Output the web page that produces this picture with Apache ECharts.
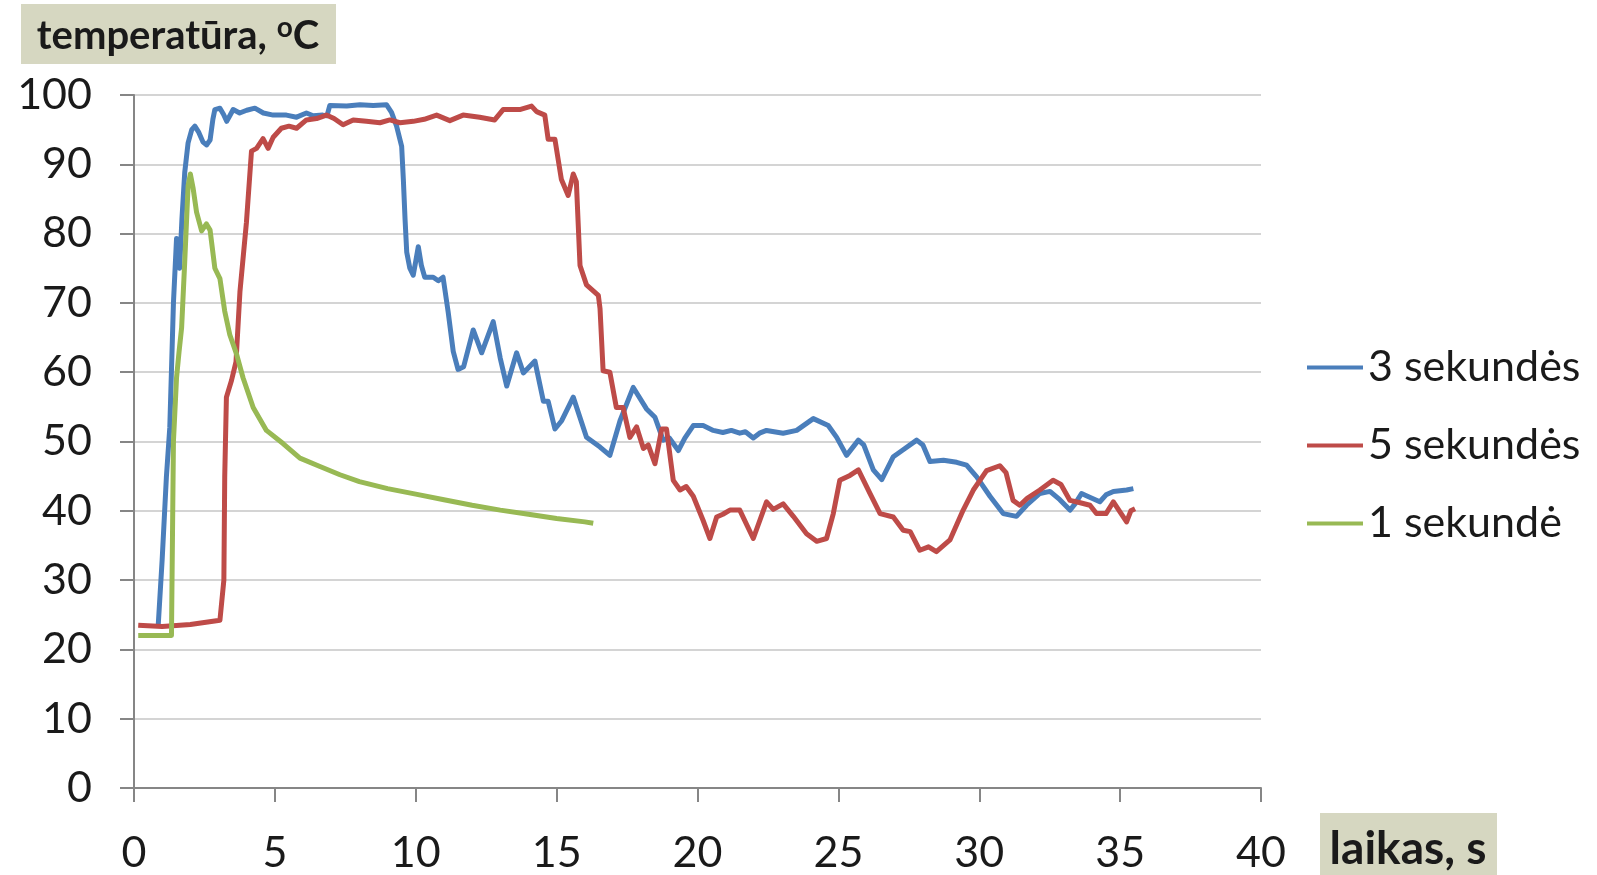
<!DOCTYPE html>
<html>
<head>
<meta charset="utf-8">
<script src="https://cdn.jsdelivr.net/npm/echarts@6/dist/echarts.min.js"></script>
<style>
  html, body { margin: 0; padding: 0; background: #ffffff; }
  #chart { width: 1597px; height: 875px; }
</style>
</head>
<body>
<div id="chart"></div>
<script>
// Temperature vs. time for three exposure durations
const seriesNames = ['3 sekundės', '5 sekundės', '1 sekundė'];
const seriesColors = ['#4a7ebb', '#be4b48', '#98b954'];

const xTicks = [0, 5, 10, 15, 20, 25, 30, 35, 40];
const yTicks = [0, 10, 20, 30, 40, 50, 60, 70, 80, 90, 100];

// 3 sekundės
const time3 = [0.86, 1.00, 1.15, 1.27, 1.40, 1.51, 1.56, 1.62, 1.70, 1.80, 1.92, 2.05, 2.16, 2.30, 2.45, 2.58, 2.70, 2.80, 2.87, 3.05,
  3.18, 3.29, 3.40, 3.52, 3.75, 4.00, 4.29, 4.59, 4.94, 5.41, 5.77, 6.12, 6.36, 6.70, 6.85, 6.95, 7.55, 8.02, 8.49, 8.96,
  9.14, 9.32, 9.50, 9.56, 9.62, 9.68, 9.79, 9.91, 10.00, 10.09, 10.20, 10.32, 10.62, 10.80, 10.97, 11.15, 11.33, 11.50, 11.70, 12.04,
  12.34, 12.75, 13.00, 13.23, 13.58, 13.82, 14.23, 14.53, 14.70, 14.94, 15.18, 15.59, 16.06, 16.54, 16.89, 17.25, 17.72, 18.19, 18.49, 18.78,
  19.00, 19.32, 19.55, 19.85, 20.20, 20.56, 20.90, 21.20, 21.50, 21.70, 21.98, 22.20, 22.45, 23.04, 23.52, 24.11, 24.64, 24.94, 25.29, 25.71,
  25.90, 26.24, 26.54, 26.95, 27.30, 27.78, 28.00, 28.25, 28.73, 29.20, 29.55, 29.91, 30.38, 30.85, 31.32, 31.68, 32.15, 32.51, 32.86, 33.22,
  33.40, 33.63, 33.90, 34.28, 34.50, 34.76, 35.23, 35.47];
const temp3 = [23.5, 33.0, 44.9, 52.0, 70.0, 79.3, 77.0, 75.0, 82.0, 88.8, 93.1, 95.0, 95.5, 94.6, 93.2, 92.8, 93.5, 96.5, 97.9, 98.1,
  97.2, 96.2, 97.0, 97.9, 97.4, 97.8, 98.1, 97.4, 97.1, 97.1, 96.8, 97.4, 97.0, 97.1, 97.0, 98.5, 98.4, 98.6, 98.5, 98.6,
  97.5, 95.5, 92.6, 87.8, 82.1, 77.3, 75.0, 74.0, 76.0, 78.1, 75.4, 73.7, 73.7, 73.2, 73.7, 68.7, 63.0, 60.4, 60.8, 66.1,
  62.8, 67.3, 62.0, 58.0, 62.8, 59.9, 61.6, 55.8, 55.8, 51.8, 53.0, 56.4, 50.6, 49.2, 48.0, 53.0, 57.8, 54.7, 53.5, 50.2,
  50.5, 48.7, 50.5, 52.3, 52.3, 51.6, 51.3, 51.6, 51.2, 51.4, 50.5, 51.2, 51.6, 51.2, 51.6, 53.3, 52.3, 50.6, 48.0, 50.2,
  49.5, 45.9, 44.5, 47.8, 48.8, 50.2, 49.5, 47.1, 47.3, 47.0, 46.6, 44.9, 42.1, 39.6, 39.2, 40.8, 42.5, 42.8, 41.6, 40.1,
  41.0, 42.5, 42.0, 41.3, 42.3, 42.8, 43.0, 43.2];

// 5 sekundės
const time5 = [0.15, 1.00, 2.00, 3.05, 3.19, 3.22, 3.28, 3.46, 3.62, 3.76, 3.99, 4.17, 4.35, 4.58, 4.76, 4.94, 5.23, 5.50, 5.77, 6.12,
  6.48, 6.83, 7.10, 7.42, 7.78, 8.25, 8.73, 9.08, 9.44, 9.91, 10.30, 10.74, 11.21, 11.68, 12.27, 12.80, 13.10, 13.69, 14.11, 14.29,
  14.58, 14.70, 14.94, 15.17, 15.41, 15.59, 15.70, 15.83, 16.06, 16.48, 16.54, 16.65, 16.89, 17.12, 17.36, 17.60, 17.84, 18.08, 18.25, 18.49,
  18.73, 18.90, 19.14, 19.38, 19.60, 19.85, 20.20, 20.44, 20.68, 20.90, 21.15, 21.50, 21.98, 22.45, 22.69, 23.04, 23.40, 23.87, 24.23, 24.58,
  24.82, 25.05, 25.41, 25.71, 26.12, 26.48, 26.95, 27.30, 27.55, 27.89, 28.20, 28.48, 28.96, 29.43, 29.79, 30.26, 30.73, 30.95, 31.20, 31.44,
  31.70, 32.15, 32.62, 32.90, 33.22, 33.55, 33.93, 34.16, 34.50, 34.76, 35.00, 35.23, 35.38, 35.53];
const temp5 = [23.5, 23.3, 23.6, 24.2, 30.0, 44.9, 56.4, 58.8, 61.5, 71.6, 81.6, 91.9, 92.3, 93.7, 92.3, 93.9, 95.2, 95.5, 95.2, 96.4,
  96.6, 97.1, 96.6, 95.7, 96.4, 96.2, 96.0, 96.4, 96.0, 96.2, 96.5, 97.1, 96.3, 97.1, 96.8, 96.4, 97.9, 97.9, 98.4, 97.6,
  97.1, 93.6, 93.6, 87.8, 85.5, 88.6, 87.5, 75.4, 72.6, 71.1, 69.2, 60.2, 60.0, 54.9, 54.9, 50.6, 52.1, 49.0, 49.5, 46.8,
  51.8, 51.8, 44.4, 43.0, 43.5, 42.1, 38.6, 36.0, 39.1, 39.5, 40.1, 40.1, 36.0, 41.3, 40.2, 41.0, 39.2, 36.7, 35.6, 36.0,
  39.6, 44.4, 45.1, 45.9, 42.5, 39.6, 39.1, 37.2, 37.0, 34.3, 34.8, 34.1, 35.8, 40.1, 43.0, 45.8, 46.5, 45.5, 41.5, 40.8,
  41.8, 43.0, 44.4, 43.8, 41.5, 41.2, 40.8, 39.6, 39.6, 41.3, 39.8, 38.4, 40.0, 40.3];

// 1 sekundė
const time1 = [0.15, 1.33, 1.40, 1.51, 1.60, 1.69, 1.80, 1.92, 2.00, 2.10, 2.22, 2.40, 2.57, 2.70, 2.87, 3.05, 3.22, 3.40, 3.64, 3.87,
  4.23, 4.70, 5.29, 5.89, 6.60, 7.31, 8.00, 9.00, 10.00, 11.00, 12.00, 13.00, 14.00, 15.00, 16.00, 16.30];
const temp1 = [22.0, 22.0, 50.0, 59.2, 63.0, 66.4, 75.9, 86.9, 88.6, 86.5, 83.1, 80.4, 81.4, 80.5, 75.0, 73.5, 68.8, 65.4, 62.6, 59.2,
  54.9, 51.6, 49.7, 47.6, 46.4, 45.2, 44.2, 43.2, 42.4, 41.6, 40.8, 40.1, 39.5, 38.9, 38.4, 38.2];

const zip = (xs, ys) => xs.map((x, i) => [x, ys[i]]);
const seriesData = [zip(time3, temp3), zip(time5, temp5), zip(time1, temp1)];

const FONT = 'Lato';
const TEXT = '#1a1a1a';
const AXIS = '#868686';
const BOX = '#d6d7c1';

const chart = echarts.init(document.getElementById('chart'), null, { renderer: 'canvas' });

chart.setOption({
  animation: false,
  backgroundColor: '#ffffff',
  grid: { left: 134, right: 336, top: 95, bottom: 81, containLabel: false },
  xAxis: {
    type: 'value',
    min: xTicks[0],
    max: xTicks[xTicks.length - 1],
    interval: xTicks[1] - xTicks[0],
    axisLine: { show: true, lineStyle: { color: AXIS, width: 2 } },
    axisTick: { show: true, length: 14, lineStyle: { color: AXIS, width: 2 } },
    splitLine: { show: false },
    axisLabel: { fontFamily: FONT, fontSize: 43, color: TEXT, margin: 44 }
  },
  yAxis: {
    type: 'value',
    min: yTicks[0],
    max: yTicks[yTicks.length - 1],
    interval: yTicks[1] - yTicks[0],
    axisLine: { show: true, lineStyle: { color: AXIS, width: 2 } },
    axisTick: { show: true, length: 14, lineStyle: { color: AXIS, width: 2 } },
    splitLine: { show: true, lineStyle: { color: '#d4d4d4', width: 2 } },
    axisLabel: { fontFamily: FONT, fontSize: 43, color: TEXT, margin: 42 }
  },
  legend: {
    orient: 'vertical',
    left: 1302,
    top: 341,
    icon: 'rect',
    itemWidth: 56,
    itemHeight: 4,
    itemGap: 35,
    textStyle: { fontFamily: FONT, fontSize: 43, color: TEXT, lineHeight: 40 },
    data: seriesNames
  },
  series: seriesNames.map((name, i) => ({
    name,
    type: 'line',
    data: seriesData[i],
    showSymbol: false,
    symbol: 'none',
    color: seriesColors[i],
    lineStyle: { width: 5, color: seriesColors[i], join: 'round' },
    z: i === 2 ? 3 : 2
  })),
  graphic: [
    {
      type: 'group',
      left: 21,
      top: 4,
      children: [
        { type: 'rect', shape: { x: 0, y: 0, width: 315, height: 60 }, style: { fill: BOX } },
        {
          type: 'text',
          x: 157, y: 32,
          style: {
            text: 'temperatūra, {sup|o}C',
            font: 'bold 40px Lato',
            fill: TEXT,
            align: 'center',
            verticalAlign: 'middle',
            rich: {
              sup: { fontFamily: FONT, fontWeight: 'bold', fontSize: 28, verticalAlign: 'top', lineHeight: 44, fill: TEXT }
            }
          }
        }
      ]
    },
    {
      type: 'group',
      left: 1320,
      top: 813,
      children: [
        { type: 'rect', shape: { x: 0, y: 0, width: 177, height: 62 }, style: { fill: BOX } },
        {
          type: 'text',
          x: 88, y: 36,
          style: {
            text: 'laikas, s',
            font: 'bold 46px Lato',
            fill: TEXT,
            align: 'center',
            verticalAlign: 'middle'
          }
        }
      ]
    }
  ]
});
</script>
</body>
</html>
